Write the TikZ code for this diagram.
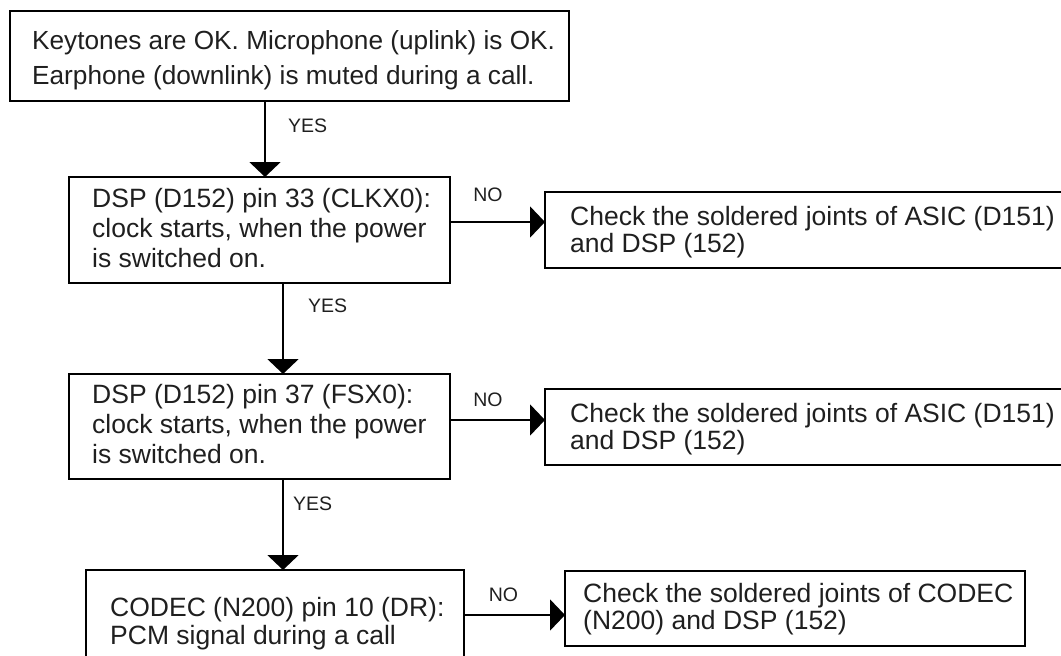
\documentclass[tikz,border=0pt]{standalone}
\usepackage{fontspec}
\setmainfont{Liberation Sans}
\usetikzlibrary{arrows.meta}
\begin{document}
\begin{tikzpicture}[x=1pt,y=-1pt,
  box/.style={draw, line width=2pt, anchor=north west, inner sep=0pt, outer sep=0pt},
  txt/.style={anchor=west, inner sep=0pt, align=left, text=black!88,
              font=\fontsize{26.5pt}{#1}\selectfont},
  arr/.style={line width=2pt, -{Triangle[length=15pt,width=31pt]}},
  yes/.style={anchor=west, inner sep=0pt, text=black!88,
              font=\fontsize{19.5pt}{20pt}\selectfont},
  no/.style={anchor=center, inner sep=0pt, text=black!88,
             font=\fontsize{19.5pt}{20pt}\selectfont}]
\useasboundingbox (0,0) rectangle (1061,656);

% main column of checks
\node[box, minimum width=559pt, minimum height=90pt,
  label={[txt=35pt, font=\fontsize{26.2pt}{35pt}\selectfont, xshift=22pt, yshift=-4pt]west:{Keytones are OK. Microphone (uplink) is OK.\\Earphone (downlink) is muted during a call.}}]
  (keytones) at (10,11) {};
\node[box, minimum width=381pt, minimum height=106pt,
  label={[txt=30pt, xshift=23pt, yshift=2pt]west:{DSP (D152) pin 33 (CLKX0):\\clock starts, when the power\\is switched on.}}]
  (clkx) at (69,177) {};
\node[box, minimum width=381pt, minimum height=105pt,
  label={[txt=30pt, xshift=23pt, yshift=2pt]west:{DSP (D152) pin 37 (FSX0):\\clock starts, when the power\\is switched on.}}]
  (fsx) at (69,374) {};
\node[box, minimum width=378pt, minimum height=108pt,
  label={[txt=28pt, xshift=24pt]west:{CODEC (N200) pin 10 (DR):\\PCM signal during a call}}]
  (codec) at (86,570) {};

% repair actions
\node[box, minimum width=525pt, minimum height=76pt,
  label={[txt=27pt, xshift=25pt, yshift=-2pt]west:{Check the soldered joints of ASIC (D151)\\and DSP (152)}}]
  (chk1) at (545,192) {};
\node[box, minimum width=525pt, minimum height=76pt,
  label={[txt=27pt, xshift=25pt, yshift=-2pt]west:{Check the soldered joints of ASIC (D151)\\and DSP (152)}}]
  (chk2) at (545,389) {};
\node[box, minimum width=460pt, minimum height=75pt,
  label={[txt=27pt, xshift=18pt, yshift=-1pt]west:{Check the soldered joints of CODEC\\(N200) and DSP (152)}}]
  (chk3) at (565,571) {};

% connector columns and rows
\coordinate (colA) at (265,0);
\coordinate (colB) at (283,0);
\coordinate (rowA) at (0,222);
\coordinate (rowB) at (0,420);
\coordinate (rowC) at (0,615);

\draw[arr] (keytones.south -| colA) -- node[yes, pos=.33, xshift=22pt] {YES} (clkx.north -| colA);
\draw[arr] (clkx.south -| colB) -- node[yes, pos=.25, xshift=24pt] {YES} (fsx.north -| colB);
\draw[arr] (fsx.south -| colB) -- node[yes, pos=.27, xshift=9pt] {YES} (codec.north -| colB);

\draw[arr] (clkx.east |- rowA) -- node[no, pos=.4, yshift=27pt] {NO} (chk1.west |- rowA);
\draw[arr] (fsx.east |- rowB) -- node[no, pos=.4, yshift=20pt] {NO} (chk2.west |- rowB);
\draw[arr] (codec.east |- rowC) -- node[no, pos=.39, yshift=20pt] {NO} (chk3.west |- rowC);
\end{tikzpicture}
\end{document}
